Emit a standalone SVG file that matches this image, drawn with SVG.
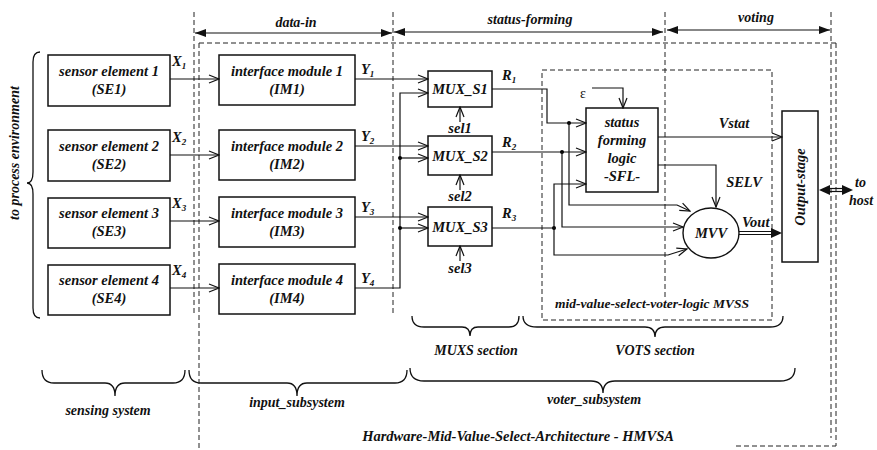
<svg xmlns="http://www.w3.org/2000/svg" width="877" height="450" viewBox="0 0 877 450">
<defs>
<style>
text{font-family:"Liberation Serif","Times New Roman",serif;font-weight:bold;font-style:italic;fill:#111}
.t14{font-size:14.5px}
.t13{font-size:14px}
.t12{font-size:13.5px}
.box{fill:#fff;stroke:#111;stroke-width:1.5}
.ln{fill:none;stroke:#111;stroke-width:1.2}
.dash{fill:none;stroke:#222;stroke-width:1;stroke-dasharray:5,3}
.brace{fill:none;stroke:#111;stroke-width:1.3}
.mid{text-anchor:middle}
</style>
<marker id="oa" markerWidth="12" markerHeight="10" refX="11" refY="5" orient="auto" markerUnits="userSpaceOnUse">
<path d="M1,1 L11,5 L1,9" fill="none" stroke="#111" stroke-width="1.2"/>
</marker>
<marker id="fa" markerWidth="12" markerHeight="10" refX="11" refY="5" orient="auto-start-reverse" markerUnits="userSpaceOnUse">
<path d="M0,1 L11,5 L0,9 z" fill="#111"/>
</marker>
</defs>
<rect width="877" height="450" fill="#fff"/>

<!-- dashed frames and dividers -->
<g id="frames">
<line class="dash" x1="194" y1="12" x2="194" y2="316"/>
<line class="dash" x1="199" y1="43" x2="199" y2="450"/>
<line class="dash" x1="393" y1="12" x2="393" y2="314"/>
<line class="dash" x1="665" y1="12" x2="665" y2="300"/>
<line class="dash" x1="831" y1="12" x2="831" y2="438"/>
<line class="dash" x1="199" y1="43" x2="836" y2="43"/>
<line class="dash" x1="836" y1="43" x2="836" y2="446"/>
<line class="dash" x1="736" y1="446" x2="836" y2="446"/>
<rect id="MVSS" class="dash" x="542" y="70" width="230" height="250"/>
<text class="t12 mid" x="652" y="308">mid-value-select-voter-logic MVSS</text>
</g>

<!-- phase arrows -->
<g id="phases">
<line class="ln" x1="195" y1="33" x2="392" y2="33" marker-start="url(#fa)" marker-end="url(#fa)"/>
<line class="ln" x1="394" y1="32" x2="663" y2="32" marker-start="url(#fa)" marker-end="url(#fa)"/>
<line class="ln" x1="667" y1="30" x2="830" y2="30" marker-start="url(#fa)" marker-end="url(#fa)"/>
<text class="t13 mid" x="296" y="27">data-in</text>
<text class="t13 mid" x="530" y="24">status-forming</text>
<text class="t13 mid" x="756" y="22">voting</text>
</g>

<!-- sensor elements -->
<g id="SE1"><rect class="box" x="48" y="55" width="122" height="51"/><text class="t14 mid" x="109" y="76">sensor element 1</text><text class="t14 mid" x="109" y="94">(SE1)</text></g>
<g id="SE2"><rect class="box" x="48" y="130" width="122" height="51"/><text class="t14 mid" x="109" y="151">sensor element 2</text><text class="t14 mid" x="109" y="169">(SE2)</text></g>
<g id="SE3"><rect class="box" x="48" y="198" width="122" height="50"/><text class="t14 mid" x="109" y="218">sensor element 3</text><text class="t14 mid" x="109" y="236">(SE3)</text></g>
<g id="SE4"><rect class="box" x="48" y="265" width="122" height="50"/><text class="t14 mid" x="109" y="285">sensor element 4</text><text class="t14 mid" x="109" y="303">(SE4)</text></g>

<!-- interface modules -->
<g id="IM1"><rect class="box" x="219" y="55" width="136" height="50"/><text class="t14 mid" x="287" y="76">interface module 1</text><text class="t14 mid" x="287" y="94">(IM1)</text></g>
<g id="IM2"><rect class="box" x="219" y="130" width="136" height="50"/><text class="t14 mid" x="287" y="151">interface module 2</text><text class="t14 mid" x="287" y="169">(IM2)</text></g>
<g id="IM3"><rect class="box" x="219" y="197" width="136" height="50"/><text class="t14 mid" x="287" y="218">interface module 3</text><text class="t14 mid" x="287" y="236">(IM3)</text></g>
<g id="IM4"><rect class="box" x="219" y="264" width="136" height="50"/><text class="t14 mid" x="287" y="285">interface module 4</text><text class="t14 mid" x="287" y="303">(IM4)</text></g>

<!-- multiplexers -->
<g id="MUX_S1"><rect class="box" x="428" y="71" width="64" height="36"/><text class="t14 mid" x="460" y="94">MUX_S1</text></g>
<g id="MUX_S2"><rect class="box" x="428" y="136" width="64" height="39"/><text class="t14 mid" x="460" y="161">MUX_S2</text></g>
<g id="MUX_S3"><rect class="box" x="428" y="207" width="64" height="39"/><text class="t14 mid" x="460" y="232">MUX_S3</text></g>

<!-- SFL -->
<g id="SFL"><rect class="box" x="586" y="108" width="72" height="84"/>
<text class="t14 mid" x="622" y="127">status</text><text class="t14 mid" x="622" y="145">forming</text><text class="t14 mid" x="622" y="163">logic</text><text class="t14 mid" x="622" y="181">-SFL-</text></g>

<!-- MVV -->
<g id="MVV"><ellipse cx="711" cy="233" rx="28" ry="25" fill="#fff" stroke="#111" stroke-width="1.4"/><text class="t14 mid" x="711" y="238">MVV</text></g>

<!-- Output stage -->
<g id="Output-stage"><rect class="box" x="782" y="111" width="36" height="151"/><text class="t14 mid" transform="translate(805,187) rotate(-90)">Output-stage</text></g>

<!-- connectors -->
<g id="connectors">
<line class="ln" x1="170" y1="79" x2="219" y2="79" marker-end="url(#oa)"/>
<line class="ln" x1="170" y1="155" x2="219" y2="155" marker-end="url(#oa)"/>
<line class="ln" x1="170" y1="221" x2="219" y2="221" marker-end="url(#oa)"/>
<line class="ln" x1="170" y1="288" x2="219" y2="288" marker-end="url(#oa)"/>

<line class="ln" x1="355" y1="79" x2="428" y2="79" marker-end="url(#oa)"/>
<line class="ln" x1="355" y1="146" x2="428" y2="146" marker-end="url(#oa)"/>
<line class="ln" x1="355" y1="217" x2="428" y2="217" marker-end="url(#oa)"/>
<polyline class="ln" points="355,288 400,288 400,93 428,93" marker-end="url(#oa)"/>
<line class="ln" x1="400" y1="158" x2="428" y2="158" marker-end="url(#oa)"/>
<line class="ln" x1="400" y1="228" x2="428" y2="228" marker-end="url(#oa)"/>
<circle cx="400" cy="158" r="2"/>
<circle cx="400" cy="228" r="2"/>

<line class="ln" x1="460" y1="122" x2="460" y2="107" marker-end="url(#oa)"/>
<line class="ln" x1="460" y1="190" x2="460" y2="175" marker-end="url(#oa)"/>
<line class="ln" x1="460" y1="261" x2="460" y2="246" marker-end="url(#oa)"/>

<polyline class="ln" points="492,89 547,89 547,123 586,123" marker-end="url(#oa)"/>
<circle cx="569" cy="123" r="2"/>
<polyline class="ln" points="569,123 569,205 677,205 690,211" marker-end="url(#oa)"/>
<line class="ln" x1="492" y1="152" x2="586" y2="152" marker-end="url(#oa)"/>
<circle cx="562" cy="152" r="2"/>
<polyline class="ln" points="562,152 562,227 683,227" marker-end="url(#oa)"/>
<line class="ln" x1="492" y1="228" x2="554" y2="228"/>
<circle cx="554" cy="228" r="2"/>
<polyline class="ln" points="554,228 554,184 586,184" marker-end="url(#oa)"/>
<polyline class="ln" points="554,228 554,255 668,255 687,249" marker-end="url(#oa)"/>

<polyline class="ln" points="592,88 623,88 623,108" marker-end="url(#oa)"/>
<line class="ln" x1="658" y1="137" x2="782" y2="137" marker-end="url(#oa)"/>
<polyline class="ln" points="658,165 716,165 716,207" marker-end="url(#oa)"/>

<line class="ln" x1="739" y1="231.5" x2="772" y2="231.5"/>
<line class="ln" x1="739" y1="234.5" x2="772" y2="234.5"/>
<path d="M771,228 L782,233 L771,238 z" fill="#111"/>

<line class="ln" x1="828" y1="188.5" x2="844" y2="188.5"/>
<line class="ln" x1="828" y1="191.5" x2="844" y2="191.5"/>
<path d="M830,185 L819,190 L830,195 z" fill="#111"/>
<path d="M842,185 L853,190 L842,195 z" fill="#111"/>
</g>

<!-- connector labels -->
<g id="labels">
<text class="t14" x="172" y="66">X<tspan font-size="9" dy="3">1</tspan></text>
<text class="t14" x="172" y="142">X<tspan font-size="9" dy="3">2</tspan></text>
<text class="t14" x="172" y="208">X<tspan font-size="9" dy="3">3</tspan></text>
<text class="t14" x="172" y="275">X<tspan font-size="9" dy="3">4</tspan></text>
<text class="t14" x="361" y="74">Y<tspan font-size="9" dy="3">1</tspan></text>
<text class="t14" x="361" y="141">Y<tspan font-size="9" dy="3">2</tspan></text>
<text class="t14" x="361" y="212">Y<tspan font-size="9" dy="3">3</tspan></text>
<text class="t14" x="361" y="283">Y<tspan font-size="9" dy="3">4</tspan></text>
<text class="t14" x="502" y="80">R<tspan font-size="9" dy="3">1</tspan></text>
<text class="t14" x="502" y="147">R<tspan font-size="9" dy="3">2</tspan></text>
<text class="t14" x="502" y="218">R<tspan font-size="9" dy="3">3</tspan></text>
<text class="t14 mid" x="460" y="133">sel1</text>
<text class="t14 mid" x="460" y="201">sel2</text>
<text class="t14 mid" x="460" y="273">sel3</text>
<text x="580" y="98" style="font-size:14px;font-style:normal;font-weight:normal">ε</text>
<text class="t14 mid" x="734" y="128">Vstat</text>
<text class="t14 mid" x="744" y="187">SELV</text>
<text class="t14" x="742" y="227">Vout</text>
<text class="t13" x="855" y="187">to</text>
<text class="t13" x="849" y="205">host</text>
</g>

<!-- braces -->
<g id="braces">
<path class="brace" d="M40,52 Q33,52 33,62 L33,172 Q33,183 27,183 Q33,183 33,194 L33,308 Q33,318 40,318"/>
<text class="t13 mid" transform="translate(19,153) rotate(-90)">to process environment</text>

<path class="brace" d="M42,370 Q42,383 54,383 L105,383 Q115,383 115,396 Q115,383 125,383 L173,383 Q185,383 185,370"/>
<text class="t13 mid" x="108" y="415">sensing system</text>
<path class="brace" d="M189,370 Q189,383 201,383 L287,383 Q297,383 297,396 Q297,383 307,383 L395,383 Q407,383 407,370"/>
<text class="t13 mid" x="297" y="407">input_subsystem</text>
<path class="brace" d="M410,368 Q410,381 424,381 L591,381 Q603,381 603,393 Q603,381 615,381 L780,381 Q795,381 795,368"/>
<text class="t13 mid" x="594" y="404">voter_subsystem</text>
<path class="brace" d="M412,316 Q412,327 424,327 L462,327 Q470,327 470,336 Q470,327 478,327 L509,327 Q519,327 519,316"/>
<text class="t13 mid" x="476" y="355">MUXS section</text>
<path class="brace" d="M523,316 Q523,327 537,327 L645,327 Q655,327 655,337 Q655,327 665,327 L770,327 Q783,327 783,316"/>
<text class="t13 mid" x="655" y="355">VOTS section</text>
</g>

<text id="title" class="t14 mid" x="518" y="441">Hardware-Mid-Value-Select-Architecture - HMVSA</text>
</svg>
